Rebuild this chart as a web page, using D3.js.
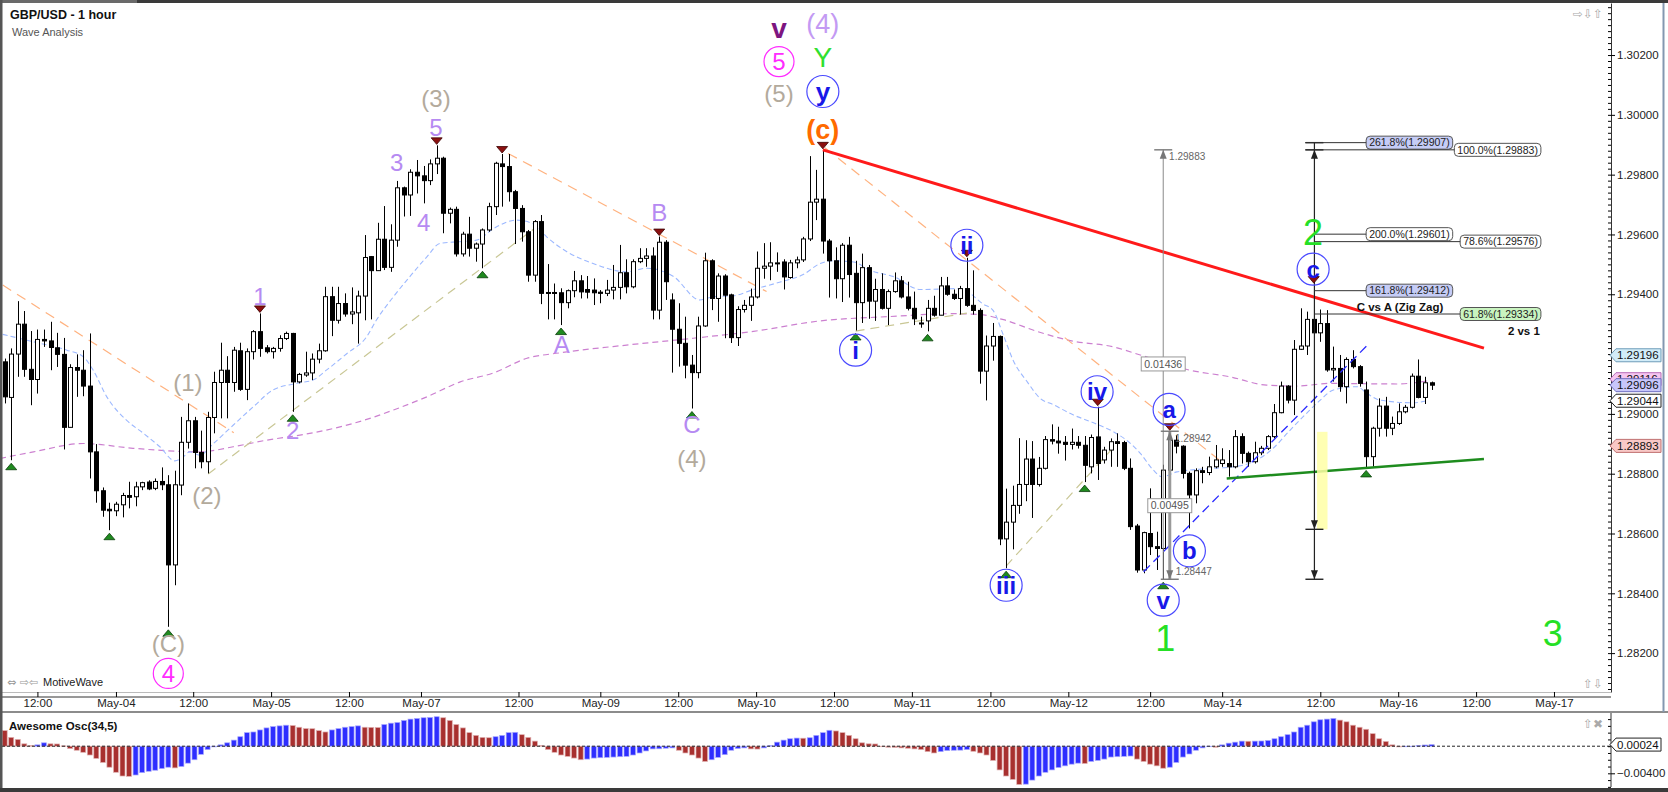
<!DOCTYPE html>
<html>
<head>
<meta charset="utf-8">
<title>GBP/USD - 1 hour</title>
<script src="https://d3js.org/d3.v7.min.js"></script>
<style>
  html, body { margin: 0; padding: 0; background: #fff; }
  svg { display: block; font-family: "Liberation Sans", Arial, sans-serif; }
</style>
</head>
<body>
<svg id="chart" width="1668" height="792"></svg>
<script>
// hourly bars, [open, high, low, close]
var candles = [
  [1.29174,1.29185,1.29035,1.29057],[1.29055,1.29219,1.28845,1.29200],[1.29200,1.29377,1.29124,1.29300],
  [1.29300,1.29344,1.29124,1.29149],[1.29149,1.29277,1.29029,1.29115],[1.29115,1.29282,1.29068,1.29249],
  [1.29249,1.29282,1.29224,1.29244],[1.29244,1.29308,1.29146,1.29222],[1.29221,1.29271,1.29157,1.29199],
  [1.29199,1.29254,1.28881,1.28955],[1.28955,1.29166,1.28955,1.29155],[1.29155,1.29199,1.29057,1.29146],
  [1.29146,1.29213,1.29059,1.29093],[1.29093,1.29269,1.28784,1.28873],[1.28873,1.28899,1.28703,1.28743],
  [1.28743,1.28754,1.28656,1.28678],[1.28681,1.28703,1.28611,1.28676],[1.28676,1.28706,1.28658,1.28698],
  [1.28696,1.28736,1.28654,1.28727],[1.28727,1.28773,1.28684,1.28721],[1.28723,1.28773,1.28691,1.28756],
  [1.28756,1.28773,1.28745,1.28770],[1.28772,1.28778,1.28745,1.28749],[1.28751,1.28784,1.28745,1.28774],
  [1.28774,1.28821,1.28745,1.28763],[1.28763,1.28795,1.28288,1.28495],[1.28495,1.28810,1.28427,1.28763],
  [1.28762,1.28990,1.28728,1.28905],[1.28905,1.29035,1.28884,1.28977],[1.28977,1.28990,1.28818,1.28871],
  [1.28871,1.28944,1.28818,1.28840],[1.28840,1.29007,1.28801,1.28988],[1.28988,1.29141,1.28935,1.29105],
  [1.29105,1.29238,1.28985,1.29146],[1.29146,1.29193,1.28985,1.29105],[1.29105,1.29224,1.29074,1.29213],
  [1.29211,1.29238,1.29077,1.29082],[1.29082,1.29219,1.29046,1.29208],[1.29208,1.29280,1.29182,1.29275],
  [1.29275,1.29336,1.29191,1.29219],[1.29221,1.29230,1.29202,1.29208],[1.29208,1.29224,1.29185,1.29219],
  [1.29219,1.29263,1.29208,1.29252],[1.29252,1.29275,1.29247,1.29269],[1.29269,1.29271,1.29007,1.29107],
  [1.29107,1.29137,1.29102,1.29132],[1.29130,1.29208,1.29124,1.29137],[1.29137,1.29202,1.29113,1.29183],
  [1.29183,1.29235,1.29169,1.29211],[1.29211,1.29425,1.29208,1.29392],[1.29392,1.29425,1.29260,1.29313],
  [1.29313,1.29425,1.29302,1.29369],[1.29369,1.29403,1.29325,1.29334],[1.29334,1.29423,1.29300,1.29341],
  [1.29338,1.29412,1.29235,1.29394],[1.29394,1.29598,1.29313,1.29523],
  [1.29526,1.29528,1.29316,1.29479],[1.29479,1.29639,1.29479,1.29584],[1.29584,1.29695,1.29481,1.29490],
  [1.29490,1.29634,1.29475,1.29581],[1.29581,1.29779,1.29559,1.29756],[1.29756,1.29760,1.29660,1.29732],
  [1.29732,1.29818,1.29662,1.29808],[1.29808,1.29849,1.29737,1.29796],[1.29796,1.29829,1.29704,1.29780],
  [1.29780,1.29851,1.29765,1.29836],[1.29836,1.29898,1.29802,1.29855],[1.29855,1.29860,1.29604,1.29671],
  [1.29671,1.29690,1.29637,1.29684],[1.29684,1.29693,1.29526,1.29535],[1.29535,1.29609,1.29526,1.29601],
  [1.29601,1.29659,1.29526,1.29554],[1.29554,1.29573,1.29509,1.29568],[1.29568,1.29620,1.29487,1.29615],
  [1.29615,1.29706,1.29609,1.29693],[1.29693,1.29843,1.29665,1.29838],[1.29836,1.29869,1.29693,1.29827],
  [1.29827,1.29869,1.29710,1.29743],[1.29743,1.29749,1.29568,1.29687],[1.29687,1.29698,1.29576,1.29609],
  [1.29609,1.29615,1.29442,1.29464],[1.29464,1.29648,1.29442,1.29643],[1.29643,1.29665,1.29367,1.29403],
  [1.29406,1.29501,1.29316,1.29403],[1.29406,1.29436,1.29316,1.29403],[1.29405,1.29420,1.29297,1.29372],
  [1.29372,1.29416,1.29353,1.29412],[1.29412,1.29478,1.29390,1.29445],[1.29445,1.29464,1.29386,1.29408],
  [1.29416,1.29461,1.29386,1.29407],[1.29414,1.29453,1.29364,1.29405],[1.29407,1.29414,1.29370,1.29403],
  [1.29403,1.29448,1.29394,1.29414],[1.29414,1.29498,1.29383,1.29423],[1.29423,1.29565,1.29383,1.29472],
  [1.29472,1.29517,1.29403,1.29425],[1.29425,1.29517,1.29420,1.29509],[1.29509,1.29554,1.29504,1.29520],
  [1.29520,1.29554,1.29492,1.29528],[1.29528,1.29557,1.29316,1.29347],[1.29347,1.29593,1.29316,1.29574],
  [1.29574,1.29581,1.29381,1.29442],[1.29381,1.29403,1.29138,1.29283],[1.29283,1.29370,1.29158,1.29236],
  [1.29236,1.29325,1.29119,1.29163],[1.29163,1.29197,1.29018,1.29138],[1.29138,1.29325,1.29119,1.29294],
  [1.29294,1.29539,1.29291,1.29512],[1.29512,1.29517,1.29347,1.29386],[1.29386,1.29470,1.29308,1.29461],
  [1.29461,1.29467,1.29253,1.29397],
  [1.29398,1.29402,1.29237,1.29255],[1.29255,1.29360,1.29227,1.29349],[1.29349,1.29381,1.29339,1.29363],
  [1.29363,1.29419,1.29311,1.29391],[1.29391,1.29543,1.29386,1.29487],[1.29487,1.29571,1.29452,1.29494],
  [1.29494,1.29574,1.29447,1.29505],[1.29505,1.29540,1.29475,1.29505],[1.29508,1.29517,1.29416,1.29458],
  [1.29456,1.29515,1.29452,1.29505],[1.29505,1.29526,1.29487,1.29515],[1.29515,1.29592,1.29508,1.29585],
  [1.29585,1.29862,1.29578,1.29708],[1.29708,1.29816,1.29648,1.29718],[1.29718,1.29883,1.29536,1.29578],
  [1.29578,1.29585,1.29389,1.29512],[1.29512,1.29557,1.29386,1.29452],[1.29452,1.29571,1.29374,1.29564],
  [1.29564,1.29592,1.29389,1.29466],[1.29470,1.29512,1.29279,1.29372],[1.29372,1.29536,1.29304,1.29489],
  [1.29489,1.29498,1.29318,1.29377],[1.29377,1.29452,1.29311,1.29416],[1.29416,1.29470,1.29349,1.29353],
  [1.29353,1.29416,1.29297,1.29409],[1.29409,1.29473,1.29405,1.29445],[1.29445,1.29461,1.29386,1.29391],
  [1.29391,1.29442,1.29346,1.29353],[1.29353,1.29409,1.29297,1.29318],[1.29304,1.29325,1.29288,1.29301],
  [1.29311,1.29381,1.29276,1.29353],[1.29353,1.29395,1.29325,1.29330],[1.29330,1.29458,1.29330,1.29428],
  [1.29428,1.29458,1.29395,1.29400],[1.29400,1.29416,1.29381,1.29386],[1.29386,1.29428,1.29332,1.29419],
  [1.29419,1.29522,1.29358,1.29363],[1.29363,1.29480,1.29332,1.29346],[1.29346,1.29353,1.29101,1.29143],
  [1.29143,1.29262,1.29045,1.29227],[1.29227,1.29304,1.29178,1.29259],[1.29259,1.29262,1.28561,1.28582],
  [1.28582,1.28750,1.28484,1.28638],[1.28638,1.28760,1.28547,1.28694],[1.28694,1.28919,1.28666,1.28764],
  [1.28764,1.28912,1.28708,1.28849],[1.28849,1.28909,1.28652,1.28764],[1.28764,1.28856,1.28757,1.28818],
  [1.28818,1.28926,1.28814,1.28914],[1.28914,1.28965,1.28898,1.28909],[1.28909,1.28957,1.28867,1.28903],
  [1.28905,1.28926,1.28844,1.28898],[1.28898,1.28951,1.28881,1.28905],[1.28905,1.28926,1.28884,1.28895],
  [1.28895,1.28926,1.28772,1.28828],
  [1.28823,1.28931,1.28801,1.28921],[1.28923,1.29024,1.28779,1.28834],[1.28846,1.28890,1.28834,1.28879],
  [1.28879,1.28918,1.28823,1.28907],[1.28907,1.28935,1.28823,1.28901],[1.28904,1.28910,1.28812,1.28818],
  [1.28818,1.28851,1.28612,1.28623],[1.28625,1.28632,1.28469,1.28478],[1.28478,1.28606,1.28467,1.28603],
  [1.28600,1.28751,1.28528,1.28556],[1.28556,1.28606,1.28478,1.28550],[1.28550,1.28830,1.28447,1.28812],
  [1.28812,1.28942,1.28801,1.28912],[1.28912,1.28929,1.28868,1.28892],[1.28892,1.28895,1.28784,1.28801],
  [1.28801,1.28807,1.28617,1.28729],[1.28729,1.28818,1.28701,1.28810],[1.28810,1.28823,1.28768,1.28804],
  [1.28804,1.28857,1.28795,1.28823],[1.28823,1.28896,1.28818,1.28846],[1.28834,1.28885,1.28823,1.28846],
  [1.28834,1.28879,1.28790,1.28823],[1.28823,1.28946,1.28818,1.28924],[1.28924,1.28935,1.28834,1.28868],
  [1.28868,1.28874,1.28823,1.28840],[1.28840,1.28907,1.28834,1.28870],[1.28870,1.28893,1.28862,1.28885],
  [1.28885,1.28929,1.28879,1.28924],[1.28924,1.29033,1.28918,1.29004],[1.29004,1.29108,1.29002,1.29093],
  [1.29093,1.29096,1.29035,1.29046],[1.29046,1.29247,1.28996,1.29216],[1.29216,1.29353,1.29214,1.29227],
  [1.29227,1.29342,1.29197,1.29316],[1.29316,1.29325,1.29267,1.29271],[1.29271,1.29349,1.29241,1.29302],
  [1.29302,1.29347,1.29141,1.29147],[1.29147,1.29225,1.29108,1.29152],[1.29152,1.29197,1.29074,1.29091],
  [1.29091,1.29189,1.29035,1.29182],[1.29182,1.29213,1.29152,1.29158],[1.29158,1.29163,1.29091,1.29102],
  [1.29080,1.29108,1.28821,1.28857],[1.28857,1.28957,1.28823,1.28952],[1.28952,1.29052,1.28924,1.29026],
  [1.29026,1.29057,1.28924,1.28952],[1.28952,1.28991,1.28929,1.28968],[1.28968,1.29035,1.28963,1.29007],
  [1.29007,1.29030,1.29002,1.29022],[1.29022,1.29135,1.29018,1.29126],[1.29126,1.29182,1.29052,1.29055],
  [1.29055,1.29124,1.29033,1.29104],[1.29104,1.29108,1.29080,1.29096]
];

// Awesome Osc(34,5), in units of 0.001, and bar colour (b = rising, r = falling)
var aoMilli = [
  2.3,1.3,1.0,0.35,0.1,0.2,0.5,0.35,0.33,0.05, -0.35,-0.6,-0.9,-1.3,-1.8,-2.4,-3.1,-3.85,-4.4,-4.45,
  -4.25,-3.9,-3.7,-3.55,-3.3,-3.1,-3.2,-3.0,-2.5,-2.0, -1.2,-0.5,-0.1,0.2,0.5,0.9,1.4,2.0,2.1,2.4,
  2.7,2.9,3.0,3.1,3.05,2.8,2.6,2.58,2.3,2.1, 2.4,2.6,2.8,2.9,3.0,2.8,2.78,2.76,3.2,3.4,
  3.5,3.8,4.0,4.1,4.2,4.25,4.35,4.2,3.8,3.2, 2.7,2.0,1.6,1.3,1.25,1.4,1.6,2.0,2.05,1.7,
  1.3,0.75,0.1,-0.5,-0.9,-1.3,
  -1.5,-1.75,-2.0,-1.9,-1.75,-1.7,-1.65,-1.6,-1.55,-1.5, -1.3,-1.0,-0.7,-0.4,-0.38,-0.3,-0.25,-0.6,-1.0,-1.3,
  -1.75,-2.25,-2.0,-1.65,-1.25,-0.6,-0.35,-0.25,-0.4,-0.42, -0.25,0.1,0.6,0.9,1.1,1.2,1.18,1.25,1.6,2.0,
  2.35,2.25,2.0,1.6,1.1,0.5,0.35,0.33,0.0,-0.15, -0.18,-0.25,-0.3,-0.4,-0.5,-0.8,-1.0,-0.8,-0.65,-0.6,
  -0.58,-0.5,-0.75,-1.0,-1.3,-2.1,-3.5,-4.4,-4.9,-5.65, -5.6,-5.0,-4.4,-3.85,-3.5,-3.15,-2.9,-2.65,-2.5,-2.55,
  -2.25,-2.1,-1.9,-1.6,-1.55,
  -1.5,-1.45,-1.9,-2.25,-2.65,-2.9,-3.25,-3.1,-2.4,-1.6, -1.15,-0.6,-0.25,0.0,-0.15,0.2,0.45,0.6,0.75,0.73,
  0.75,0.77,0.85,1.1,1.4,1.7,2.1,2.8,3.1,3.6, 3.9,4.0,4.1,3.85,3.6,3.1,2.8,2.5,1.85,1.1,
  0.7,0.2,-0.1,-0.08,0.0,0.1,0.18,0.24
];
var aoColour =
  "rrrrrbbrrr" + "rrrrrrrrrr" + "bbbbbbrbbb" + "bbbbbbbbbb" + "bbbbrrrrrr" +
  "bbbbbrrrbb" + "bbbbbbbrrr" + "rrrrrbbbbr" + "rrrrrr" +
  "rrrbbbbbbb" + "bbbbbbbrrr" + "rrbbbbbbrr" + "bbbbbbrbbb" + "brrrrrrrrr" +
  "rrrrrrrbbb" + "bbrrrrrrrr" + "bbbbbbbbbr" + "bbbbb" +
  "bbrrrrrbbb" + "bbbbrbbbbr" + "bbbbbbbbbb" + "bbbrrrrrrr" + "rrrbbbbb";

// moving averages: [bar, price]
var fastMa = [
  [-0.3,1.29266],[4.4,1.29241],[9.5,1.29213],[12,1.29191],[13.5,1.29147],[15.6,1.29057],[18.6,1.28979],
  [21.2,1.28935],[23.7,1.28890],[26,1.28843],[27,1.28851],[28.3,1.28873],[29.8,1.28862],[31.9,1.28901],
  [34.9,1.28962],[38,1.29024],[41,1.29080],[45.1,1.29104],[47.1,1.29113],[49.2,1.29147],[52.3,1.29202],
  [55.3,1.29258],[56.8,1.29314],[59.4,1.29392],[61.9,1.29459],[64.5,1.29525],[66.5,1.29570],[72.1,1.29581],
  [74.7,1.29620],[78.2,1.29648],[80.8,1.29635],[82.8,1.29592],[85.9,1.29542],[89.9,1.29503],[95,1.29475],
  [98.1,1.29487],[102.2,1.29459],[106.2,1.29381],[108.3,1.29392],[111.3,1.29395],[114.4,1.29416],
  [118.5,1.29441],[122,1.29466],[124.6,1.29503],[126.6,1.29512],[129.7,1.29508],[132.2,1.29480],
  [135.8,1.29459],[139.9,1.29416],[146,1.29419],[149.5,1.29367],[151,1.29346],[152.6,1.29262],
  [154.1,1.29178],[156.2,1.29108],[158.2,1.29052],[160.2,1.29031],[163.3,1.28996],[165.8,1.28975],
  [169.4,1.28940],[171.4,1.28912],[173.5,1.28868],[175.5,1.28812],[176.8,1.28790],[179.1,1.28806],
  [184.7,1.28818],[187.7,1.28823],[190.8,1.28840],[193.8,1.28885],[196.4,1.28946],[198.9,1.29002],
  [201,1.29046],[203,1.29080],[206.6,1.29091],[208.1,1.29069],[210.1,1.29046],[215.2,1.29037],[217.3,1.29044]
];
var slowMa = [
  [-0.7,1.28851],[4.4,1.28873],[12,1.28901],[19.6,1.28885],[29.8,1.28873],[34.9,1.28890],[40,1.28912],
  [45.1,1.28929],[50.2,1.28951],[55.8,1.28985],[59.4,1.29013],[64.5,1.29057],[69.6,1.29107],[74.7,1.29137],
  [79.8,1.29186],[84.8,1.29204],[95,1.29230],[105.2,1.29253],[114.4,1.29276],[124.6,1.29311],[134.8,1.29325],
  [144.9,1.29335],[149,1.29332],[152.6,1.29315],[157.7,1.29276],[162.8,1.29245],[169.4,1.29224],
  [173.5,1.29197],[181.1,1.29146],[187.2,1.29124],[192.8,1.29096],[197.4,1.29093],[202.5,1.29102],
  [212.7,1.29100],[217.3,1.29110]
];

var priceTicks = [1.282, 1.284, 1.286, 1.288, 1.290, 1.292, 1.294, 1.296, 1.298, 1.300, 1.302];
var timeTickBars = [5.0, 17.0, 28.8, 40.7, 52.6, 63.6, 78.5, 91.0, 102.9, 114.8, 126.7, 138.6, 150.6,
  162.5, 175.0, 186.0, 201.0, 212.9, 224.8, 236.7];
var timeTickText = ["12:00", "May-04", "12:00", "May-05", "12:00", "May-07", "12:00", "May-09", "12:00",
  "May-10", "12:00", "May-11", "12:00", "May-12", "12:00", "May-14", "12:00", "May-16", "12:00", "May-17"];

// swing markers: [bar, price]
var lowMarks = [[1,1.28845],[16,1.28611],[25,1.28288],[44,1.29007],[73,1.29487],[85,1.29297],[105,1.29018],
  [130,1.29279],[141,1.29276],[153,1.28484],[165,1.28772],[177,1.28447],[208,1.28821]];
var highMarks = [[39,1.29336],[66,1.29898],[76,1.29869],[100,1.29593],[125,1.29883],[147,1.29522],
  [167,1.29024],[178,1.28942],[200,1.29434]];

// wave labels: text, bar, price, degree
var waveText = ["1","(1)","(2)","2","(C)","4","3","4","5","(3)","A","B","C","(4)",
  "v","(4)","5","Y","(5)","y","(c)","i","ii","iii","iv","a","b","v","c","2","1","3"];
var waveBar = [39,28,30.9,44,25,25,59.9,64,65.9,65.9,85.1,100,105,105,
  118.3,125,118.3,125,118.3,125,125,130,147,153,166.9,177.9,181,177,199.9,199.9,177.3,236.5];
var wavePrice = [1.29392,1.29105,1.28728,1.28946,1.28234,1.28132,1.29840,1.29642,1.29958,1.30055,1.29233,
  1.29674,1.28966,1.28852,1.30289,1.30307,1.30178,1.30195,1.30073,1.30078,1.29953,1.29213,1.29564,
  1.28427,1.29074,1.29015,1.28542,1.28377,1.29484,1.29609,1.28250,1.28266];
var waveDegree = ["minor","inter","inter","minor","inter","primary","minor","minor","minor","inter","minor",
  "minor","minor","inter","cycle","super","primary","grand","inter","sub","subsub","micro","micro","micro",
  "micro","micro","micro","micro","micro","big","big","big"];

// trend lines: [[bar, price], [bar, price]]
var redTrend = [[125,1.29883],[226,1.29220]];
var greenTrend = [[186.7,1.28784],[226,1.28849]];
var blueChannel = [[174,1.28472],[208.2,1.29230]];
var orangeLegs = [[[-0.3,1.29431],[35,1.28937]], [[76.9,1.29871],[116.4,1.29409]], [[125.3,1.29890],[186.2,1.28835]]];
var tanLegs = [[[31.1,1.28799],[81,1.29621]], [[130,1.29277],[147,1.29337]], [[153,1.28491],[169.3,1.28886]]];

// fibonacci tools
var fibText = ["261.8%(1.29907)","200.0%(1.29601)","161.8%(1.29412)","100.0%(1.29883)","78.6%(1.29576)","61.8%(1.29334)"];
var fibPrice = [1.29907, 1.29601, 1.29412, 1.29883, 1.29576, 1.29334];
var fibStart = [198.7, 200.1, 200.1, 198.7, 200.1, 200.1];
var fibGroup = ["ext","ext","ext","ret","ret","ret"];

var priceTags = [1.29116, 1.29196, 1.29096, 1.29044, 1.28893];

var W = 1668, H = 792;
var plotL = 2, plotR = 1607, plotT = 3, plotB = 692, axisX = 1611;
var oscT = 713, oscB = 787;

var svg = d3.select("#chart");
var x = d3.scaleLinear().domain([-0.41, 244.8]).range([plotL, plotR]);
var y = d3.scaleLinear().domain([1.2807, 1.30374]).range([plotB, plotT]);
var yo = d3.scaleLinear().domain([-0.00602, 0.0049]).range([oscB, oscT]);
var ao = aoMilli.map(function(v) { return v / 1000; });
var fmt5 = d3.format(".5f");

svg.append("rect").attr("width", W).attr("height", H).attr("fill", "#fff");

svg.append("defs").append("clipPath").attr("id", "plotClip")
  .append("rect").attr("x", plotL).attr("y", plotT).attr("width", plotR - plotL).attr("height", plotB - plotT);
var plot = svg.append("g").attr("clip-path", "url(#plotClip)");

function seg(g, pts, color, width, dash) {
  return g.append("line")
    .attr("x1", x(pts[0][0])).attr("y1", y(pts[0][1]))
    .attr("x2", x(pts[1][0])).attr("y2", y(pts[1][1]))
    .attr("stroke", color).attr("stroke-width", width)
    .attr("stroke-dasharray", dash || null);
}

// moving averages
var maLine = d3.line().x(function(d) { return x(d[0]); }).y(function(d) { return y(d[1]); }).curve(d3.curveMonotoneX);
plot.append("path").attr("d", maLine(slowMa)).attr("fill", "none")
  .attr("stroke", "#cc80d0").attr("stroke-width", 1.2).attr("stroke-dasharray", "6,4");
plot.append("path").attr("d", maLine(fastMa)).attr("fill", "none")
  .attr("stroke", "#9cb8ff").attr("stroke-width", 1.1).attr("stroke-dasharray", "5,3");

// dashed wave legs
orangeLegs.forEach(function(l) { seg(plot, l, "#ffb27f", 1.2, "10,7"); });
tanLegs.forEach(function(l) { seg(plot, l, "#c9c795", 1.2, "9,6"); });

// candles
var cg = plot.append("g");
cg.selectAll("line").data(candles).enter().append("line")
  .attr("x1", function(d, i) { return Math.round(x(i)) + 0.5; })
  .attr("x2", function(d, i) { return Math.round(x(i)) + 0.5; })
  .attr("y1", function(d) { return y(d[1]); })
  .attr("y2", function(d) { return y(d[2]); })
  .attr("stroke", "#000").attr("stroke-width", 1);
cg.selectAll("rect").data(candles).enter().append("rect")
  .attr("x", function(d, i) { return Math.round(x(i)) - 1.5; })
  .attr("y", function(d) { return y(Math.max(d[0], d[3])); })
  .attr("width", 4)
  .attr("height", function(d) { return Math.max(1, Math.abs(y(d[0]) - y(d[3]))); })
  .attr("fill", function(d) { return d[3] >= d[0] ? "#fff" : "#000"; })
  .attr("stroke", "#000").attr("stroke-width", 1);

// trend lines
seg(plot, blueChannel, "#2a2aff", 1.3, "9,5");
seg(plot, redTrend, "#ff1a1a", 3);
seg(plot, greenTrend, "#1e8c1e", 2.6);

// measuring tools
function arrowHead(g, px, tipY, dir, color) {
  var b = tipY - dir * 9;
  g.append("path").attr("d", "M" + px + "," + tipY + "L" + (px - 3.5) + "," + b + "L" + (px + 3.5) + "," + b + "Z")
    .attr("fill", color);
}
function cap(g, px, price, color) {
  g.append("line").attr("x1", px - 9).attr("x2", px + 9).attr("y1", y(price)).attr("y2", y(price))
    .attr("stroke", color).attr("stroke-width", 1.4);
}
var tools = plot.append("g");
tools.append("rect").attr("x", x(200.5)).attr("width", x(202.1) - x(200.5))
  .attr("y", y(1.2894)).attr("height", y(1.28614) - y(1.2894)).attr("fill", "#ffffa6").attr("opacity", 0.85);
var bx = x(200.1);
tools.append("line").attr("x1", bx).attr("x2", bx).attr("y1", y(1.29907)).attr("y2", y(1.28447))
  .attr("stroke", "#222").attr("stroke-width", 1.2);
[1.29907, 1.29883, 1.28614, 1.28447].forEach(function(p) { cap(tools, bx, p, "#222"); });
arrowHead(tools, bx, y(1.29883), -1, "#222");
arrowHead(tools, bx, y(1.28614), 1, "#222");
arrowHead(tools, bx, y(1.28447), 1, "#222");

var gx1 = x(177), gx2 = x(178);
tools.append("line").attr("x1", gx1).attr("x2", gx1).attr("y1", y(1.29883)).attr("y2", y(1.28447))
  .attr("stroke", "#8a8a8a").attr("stroke-width", 1);
cap(tools, gx1, 1.29883, "#777");
arrowHead(tools, gx1, y(1.29883), -1, "#777");
tools.append("line").attr("x1", gx2).attr("x2", gx2).attr("y1", y(1.28942)).attr("y2", y(1.28447))
  .attr("stroke", "#9a9a9a").attr("stroke-width", 3);
cap(tools, gx2, 1.28942, "#777");
cap(tools, gx2, 1.28447, "#777");
arrowHead(tools, gx2, y(1.28942), -1, "#777");
arrowHead(tools, gx2, y(1.28447), 1, "#777");

function grayText(t, bar, price) {
  tools.append("text").attr("x", x(bar)).attr("y", y(price)).attr("dy", "0.35em")
    .attr("font-size", 10).attr("fill", "#666").text(t);
}
grayText("1.29883", 177.9, 1.2986);
grayText("1.28942", 178.8, 1.28919);
grayText("1.28447", 178.9, 1.28474);
function measureBox(t, bar, price) {
  var tx = tools.append("text").attr("x", x(bar)).attr("y", y(price)).attr("dy", "0.36em")
    .attr("text-anchor", "middle").attr("font-size", 10.5).attr("fill", "#555").text(t);
  var w = tx.node().getComputedTextLength() + 6;
  tools.insert("rect", function() { return tx.node(); })
    .attr("x", x(bar) - w / 2).attr("y", y(price) - 7).attr("width", w).attr("height", 14)
    .attr("fill", "#fff").attr("stroke", "#999");
}
measureBox("0.01436", 177, 1.29167);
measureBox("0.00495", 178, 1.28693);

// fibonacci levels
var fibFill = ["#c5ccf6", "#ffffff", "#c5ccf6", "#ffffff", "#ffffff", "#c9f4c0"];
var fib = plot.append("g");
fibText.forEach(function(t, k) {
  var py = y(fibPrice[k]);
  var tx = fib.append("text").attr("y", py).attr("dy", "0.36em").attr("font-size", 10.5).attr("fill", "#222").text(t);
  var w = tx.node().getComputedTextLength() + 6;
  var left = fibGroup[k] === "ext" ? x(208) : x(234.7) - w;
  tx.attr("x", left + 3);
  fib.append("line").attr("x1", x(fibStart[k])).attr("x2", left).attr("y1", py).attr("y2", py)
    .attr("stroke", "#333").attr("stroke-width", 1);
  fib.insert("rect", function() { return tx.node(); })
    .attr("x", left).attr("y", py - 6.5).attr("width", w).attr("height", 13).attr("rx", 4)
    .attr("fill", fibFill[k]).attr("stroke", "#555");
});
fib.append("text").attr("x", x(219.8)).attr("y", y(1.29357)).attr("dy", "0.36em").attr("text-anchor", "end")
  .attr("font-size", 11.5).attr("font-weight", "bold").attr("fill", "#111").text("C vs A (Zig Zag)");
fib.append("text").attr("x", x(232.1)).attr("y", y(1.29277)).attr("dy", "0.36em").attr("text-anchor", "middle")
  .attr("font-size", 11.5).attr("font-weight", "bold").attr("fill", "#111").text("2 vs 1");

// swing markers
var marks = plot.append("g");
lowMarks.forEach(function(m) {
  var px = x(m[0]), py = y(m[1]) + 3;
  marks.append("path").attr("d", "M" + px + "," + py + "L" + (px - 5.5) + "," + (py + 6.5) + "L" + (px + 5.5) + "," + (py + 6.5) + "Z")
    .attr("fill", "#1f8a1f").attr("stroke", "#0b3d0b").attr("stroke-width", 0.8);
});
highMarks.forEach(function(m) {
  var px = x(m[0]), py = y(m[1]) - 1;
  marks.append("path").attr("d", "M" + px + "," + py + "L" + (px - 5.5) + "," + (py - 6.5) + "L" + (px + 5.5) + "," + (py - 6.5) + "Z")
    .attr("fill", "#8b1010").attr("stroke", "#3a0000").attr("stroke-width", 0.8);
});

// wave labels
var degreeStyle = {
  minor:   { color: "#b68af2", size: 24 },
  inter:   { color: "#b3aa9c", size: 24 },
  primary: { color: "#ff2cff", size: 24, ring: 15 },
  cycle:   { color: "#7d1580", size: 28, weight: "bold" },
  super:   { color: "#c39af3", size: 27 },
  grand:   { color: "#30e030", size: 28 },
  sub:     { color: "#1818e8", size: 26, ring: 16, weight: "bold" },
  subsub:  { color: "#ff6a00", size: 27, weight: "bold" },
  micro:   { color: "#1818e8", size: 24, ring: 16, weight: "bold" },
  big:     { color: "#25e025", size: 36 }
};
var labels = plot.append("g");
waveText.forEach(function(t, k) {
  var s = degreeStyle[waveDegree[k]];
  var px = x(waveBar[k]), py = y(wavePrice[k]);
  if (s.ring) {
    labels.append("circle").attr("cx", px).attr("cy", py).attr("r", s.ring)
      .attr("fill", "none").attr("stroke", s.color === "#1818e8" ? "#4a4aff" : s.color).attr("stroke-width", 1.2);
  }
  labels.append("text").attr("x", px).attr("y", py).attr("dy", "0.36em").attr("text-anchor", "middle")
    .attr("font-size", s.size).attr("font-weight", s.weight || "normal")
    .attr("fill", s.color).text(t);
});

// price axis
var axisG = svg.append("g").attr("transform", "translate(" + axisX + ",0)");
var minorTicks = d3.range(1.2808, 1.3037, 0.0002);
axisG.append("g").call(d3.axisLeft(y).tickValues(minorTicks).tickSize(3).tickSizeOuter(0).tickFormat(""))
  .call(function(g) { g.select(".domain").remove(); });
axisG.append("g").call(d3.axisRight(y).tickValues(priceTicks).tickSize(4).tickSizeOuter(0).tickPadding(2).tickFormat(fmt5))
  .call(function(g) {
    g.select(".domain").attr("stroke", "#333");
    g.selectAll("text").attr("font-size", 11.5).attr("fill", "#222").attr("font-family", "Liberation Sans, Arial");
  });

// value tags on the price axis
var tagStyle = [["#f6c6f0", "#b86cb8"], ["#d2ecf8", "#6d9cb8"], ["#c8c6fa", "#6f6fc0"], ["#ffffff", "#222"], ["#f8c8c6", "#c07070"]];
priceTags.forEach(function(p, k) {
  var py = y(p);
  svg.append("path")
    .attr("d", "M" + (axisX - 1) + "," + py + "L" + (axisX + 5) + "," + (py - 6.5) + "L1661," + (py - 6.5) + "L1661," + (py + 6.5) + "L" + (axisX + 5) + "," + (py + 6.5) + "Z")
    .attr("fill", tagStyle[k][0]).attr("stroke", tagStyle[k][1]).attr("stroke-width", 1);
  svg.append("text").attr("x", axisX + 6).attr("y", py).attr("dy", "0.36em").attr("font-size", 11.5)
    .attr("fill", "#111").text(fmt5(p));
});

// time axis
svg.append("line").attr("x1", plotL).attr("x2", axisX).attr("y1", plotB + 0.5).attr("y2", plotB + 0.5).attr("stroke", "#bbb");
svg.append("g").attr("transform", "translate(0," + 697 + ")")
  .call(d3.axisBottom(x).tickValues(timeTickBars).tickSize(-5).tickSizeOuter(0).tickPadding(2)
    .tickFormat(function(d, k) { return timeTickText[k]; }))
  .call(function(g) {
    g.select(".domain").attr("d", "M" + plotL + ",0H" + axisX).attr("stroke", "#333");
    g.selectAll("text").attr("font-size", 11.5).attr("fill", "#222").attr("font-family", "Liberation Sans, Arial");
  });
svg.append("line").attr("x1", 0).attr("x2", W).attr("y1", 712).attr("y2", 712).attr("stroke", "#666").attr("stroke-width", 1.5);

// awesome oscillator panel
var osc = svg.append("g");
osc.selectAll("rect").data(ao).enter().append("rect")
  .attr("x", function(d, i) { return x(i) - 2.5; })
  .attr("y", function(d) { return yo(Math.max(0, d)); })
  .attr("width", 5)
  .attr("height", function(d) { return Math.max(0.5, Math.abs(yo(d) - yo(0))); })
  .attr("fill", function(d, i) { return aoColour[i] === "b" ? "#2e2eff" : "#a8302f"; })
  .attr("stroke", function(d, i) { return aoColour[i] === "b" ? "#a8a8ff" : "#e0b0b0"; })
  .attr("stroke-width", 0.7);
osc.append("line").attr("x1", plotL).attr("x2", axisX).attr("y1", yo(0)).attr("y2", yo(0))
  .attr("stroke", "#222").attr("stroke-width", 1).attr("stroke-dasharray", "3,2");
osc.append("text").attr("x", 9).attr("y", 730).attr("font-size", 11.5).attr("font-weight", "bold")
  .attr("fill", "#111").text("Awesome Osc(34,5)");
var oscAxis = svg.append("g").attr("transform", "translate(" + axisX + ",0)");
oscAxis.append("g").call(d3.axisLeft(yo).tickValues(d3.range(-0.006, 0.005, 0.001)).tickSize(3).tickSizeOuter(0).tickFormat(""))
  .call(function(g) { g.select(".domain").remove(); });
oscAxis.append("line").attr("x1", 0).attr("x2", 0).attr("y1", oscT).attr("y2", oscB).attr("stroke", "#333");
oscAxis.append("g").call(d3.axisRight(yo).tickValues([-0.004]).tickSize(4).tickPadding(2).tickFormat(fmt5))
  .call(function(g) {
    g.select(".domain").remove();
    g.selectAll("text").attr("font-size", 11.5).attr("fill", "#222").attr("font-family", "Liberation Sans, Arial");
  });
var lastAo = ao[ao.length - 1], ty = yo(lastAo);
svg.append("path")
  .attr("d", "M" + (axisX - 1) + "," + ty + "L" + (axisX + 5) + "," + (ty - 6.5) + "L1661," + (ty - 6.5) + "L1661," + (ty + 6.5) + "L" + (axisX + 5) + "," + (ty + 6.5) + "Z")
  .attr("fill", "#fff").attr("stroke", "#222");
svg.append("text").attr("x", axisX + 6).attr("y", ty).attr("dy", "0.36em").attr("font-size", 11.5).attr("fill", "#111").text(fmt5(lastAo));

// header, icons and frame
svg.append("text").attr("x", 10).attr("y", 19).attr("font-size", 12.5).attr("font-weight", "bold").attr("fill", "#111").text("GBP/USD - 1 hour");
svg.append("text").attr("x", 12).attr("y", 36).attr("font-size", 11).attr("fill", "#555").text("Wave Analysis");
svg.append("text").attr("x", 7).attr("y", 686).attr("font-size", 11).attr("fill", "#999").attr("font-family", "DejaVu Sans").text("\u21D4 \u21E8\u21E6");
svg.append("text").attr("x", 43).attr("y", 686).attr("font-size", 11).attr("fill", "#222").text("MotiveWave");
svg.append("text").attr("x", 1603).attr("y", 18).attr("text-anchor", "end").attr("font-size", 12).attr("fill", "#aaa").attr("font-family", "DejaVu Sans").text("\u21E8\u21E9\u21E7");
svg.append("text").attr("x", 1603).attr("y", 688).attr("text-anchor", "end").attr("font-size", 12).attr("fill", "#aaa").attr("font-family", "DejaVu Sans").text("\u21E7\u21E9");
svg.append("text").attr("x", 1603).attr("y", 728).attr("text-anchor", "end").attr("font-size", 12).attr("fill", "#aaa").attr("font-family", "DejaVu Sans").text("\u21E7\u2716");

svg.append("rect").attr("x", 0).attr("y", 0).attr("width", W).attr("height", 3).attr("fill", "#3a3a3a");
svg.append("rect").attr("x", 0).attr("y", 0).attr("width", 137).attr("height", 3).attr("fill", "#6a6a6a");
svg.append("rect").attr("x", 0).attr("y", 0).attr("width", 2.5).attr("height", H).attr("fill", "#555");
svg.append("rect").attr("x", 0).attr("y", 788).attr("width", W).attr("height", 4).attr("fill", "#3a3a3a");
svg.append("line").attr("x1", 1663.5).attr("x2", 1663.5).attr("y1", 3).attr("y2", 712).attr("stroke", "#8397b0").attr("stroke-width", 2);
</script>
</body>
</html>
